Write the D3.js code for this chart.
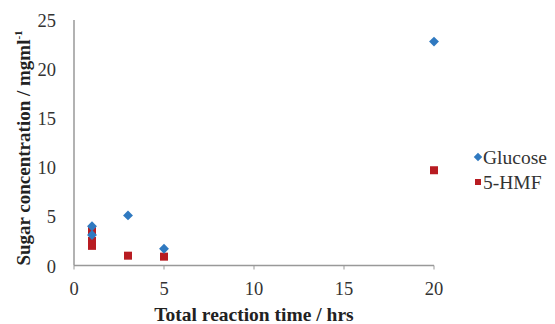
<!DOCTYPE html>
<html>
<head>
<meta charset="utf-8">
<script src="https://cdn.jsdelivr.net/npm/d3@7"></script>
<style>
  body { margin: 0; background: #fff; }
</style>
</head>
<body>
<svg id="chart" width="555" height="324"></svg>
<script>
// values
const glucoseTime = [1, 1, 3, 5, 20];
const glucoseConc = [4.0, 3.1, 5.1, 1.7, 22.8];
const hmfTime = [1, 1, 1, 3, 5, 20];
const hmfConc = [3.5, 2.5, 2.0, 1.0, 0.9, 9.7];
const xTicks = [0, 5, 10, 15, 20];
const yTicks = [0, 5, 10, 15, 20, 25];

const serif = "Liberation Serif";
const svg = d3.select("#chart")
  .attr("font-family", serif);
const x = d3.scaleLinear().domain([0, 20]).range([74, 434]);
const y = d3.scaleLinear().domain([0, 25]).range([265.5, 20]);

// axes
svg.append("line")
  .attr("x1", x(0)).attr("x2", x(0))
  .attr("y1", y(25)).attr("y2", y(0))
  .attr("stroke", "#999").attr("stroke-width", 1.5);
svg.append("line")
  .attr("x1", x(0)).attr("x2", x(20))
  .attr("y1", y(0)).attr("y2", y(0))
  .attr("stroke", "#999").attr("stroke-width", 1.5);

svg.selectAll(".xtick").data(xTicks).enter().append("line")
  .attr("x1", d => x(d)).attr("x2", d => x(d))
  .attr("y1", y(0)).attr("y2", y(0) + 4)
  .attr("stroke", "#999").attr("stroke-width", 1);

svg.selectAll(".xlab").data(xTicks).enter().append("text")
  .attr("x", d => x(d)).attr("y", 295)
  .attr("text-anchor", "middle")
  .attr("font-family", serif).attr("font-size", 18.5).attr("fill", "#333")
  .text(d => d);

svg.selectAll(".ylab").data(yTicks).enter().append("text")
  .attr("x", 56).attr("y", d => y(d) + 7)
  .attr("text-anchor", "end")
  .attr("font-family", serif).attr("font-size", 18.5).attr("fill", "#333")
  .text(d => d);

// titles
svg.append("text")
  .attr("x", x(10)).attr("y", 321)
  .attr("text-anchor", "middle")
  .attr("font-family", serif).attr("font-size", 19.5).attr("font-weight", "bold").attr("fill", "#222")
  .text("Total reaction time / hrs");

const yt = svg.append("text")
  .attr("transform", "translate(30,148) rotate(-90)")
  .attr("text-anchor", "middle")
  .attr("font-family", serif).attr("font-size", 19).attr("font-weight", "bold").attr("fill", "#222");
yt.append("tspan").text("Sugar concentration / mgml");
yt.append("tspan").attr("dy", -8).attr("font-size", 11).text("-1");

// points
const blue = "#2f79c0", red = "#b81c22";

svg.selectAll(".hmf").data(hmfTime).enter().append("rect")
  .attr("x", d => x(d) - 4).attr("y", (d, i) => y(hmfConc[i]) - 4)
  .attr("width", 8).attr("height", 8)
  .attr("fill", red);

svg.selectAll(".glu").data(glucoseTime).enter().append("rect")
  .attr("x", -3.5).attr("y", -3.5).attr("width", 7).attr("height", 7)
  .attr("transform", (d, i) => "translate(" + x(d) + "," + y(glucoseConc[i]) + ") rotate(45)")
  .attr("fill", blue);

// legend
svg.append("rect").attr("x", -3).attr("y", -3).attr("width", 6).attr("height", 6)
  .attr("transform", "translate(478,157) rotate(45)").attr("fill", blue);
svg.append("text").attr("x", 483).attr("y", 164)
  .attr("font-family", serif).attr("font-size", 19.5).attr("fill", "#333").text("Glucose");
svg.append("rect").attr("x", 475).attr("y", 179).attr("width", 6).attr("height", 6)
  .attr("fill", red);
svg.append("text").attr("x", 483).attr("y", 189)
  .attr("font-family", serif).attr("font-size", 19.5).attr("fill", "#333").text("5-HMF");
</script>
</body>
</html>
